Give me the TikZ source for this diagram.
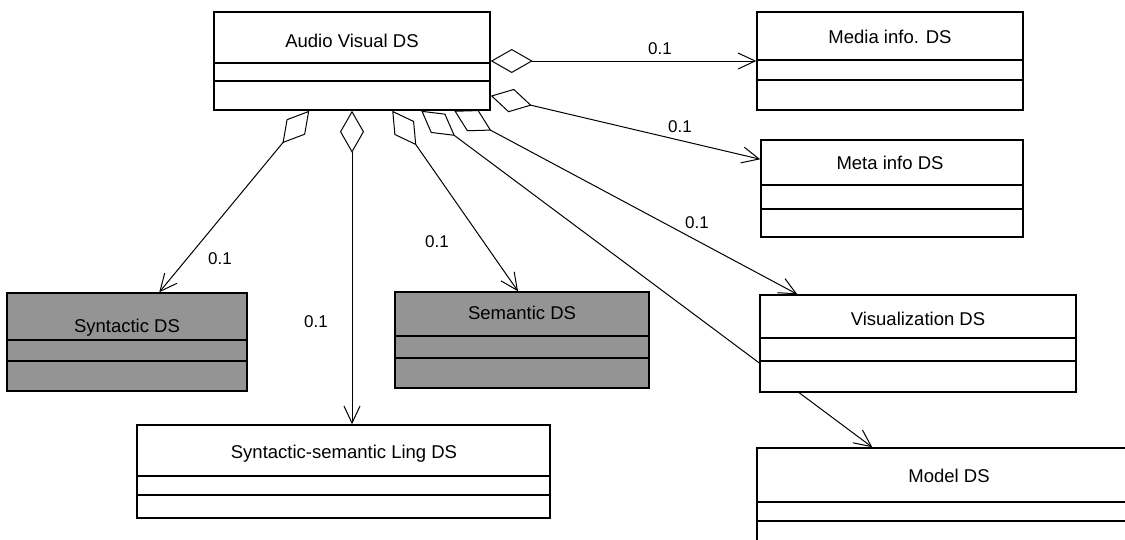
\documentclass[tikz,border=0pt]{standalone}
\usepackage{fontspec}
\setmainfont{Liberation Sans}
\usetikzlibrary{arrows.meta,calc,fit,backgrounds}
\pgfdeclarelayer{paper}
\pgfsetlayers{paper,background,main}
\tikzset{
  umlbox/.style={draw, line width=1.5pt, inner sep=0pt, fill=white},
  graybox/.style={umlbox, fill=black!42},
  divider/.style={line width=1.5pt},
  lbl/.style={inner sep=0pt, font=\fontsize{18.5}{22}\selectfont, text height=13.2pt, text depth=0pt},
  mult/.style={inner sep=0pt, font=\fontsize{17}{20}\selectfont, text height=12pt, text depth=0pt},
  assoc/.style={line width=1pt,
    {Diamond[open,length=42pt,width=24pt,fill=white]}-{Straight Barb[length=17pt,width=16pt]}},
}
\begin{document}
\begin{tikzpicture}[x=1pt,y=-1pt]
\clip (0,0) rectangle (1125,539);
\begin{pgfonlayer}{paper}
\fill[white] (0,0) rectangle (1125,539);
\end{pgfonlayer}

% boxes
\node[umlbox, fit={(214,12) (490,110)}] (av) {};
\draw[divider] (214,63) -- (490,63);
\draw[divider] (214,81) -- (490,81);
\node[lbl] (avt) at (352,40.5) {Audio Visual DS};

\node[umlbox, fit={(757,12) (1023,110)}] (media) {};
\draw[divider] (757,60) -- (1023,60);
\draw[divider] (757,80) -- (1023,80);
\node[lbl] (mediat) at (890,37) {Media info. DS};

\node[umlbox, fit={(761,140) (1023,237)}] (meta) {};
\draw[divider] (761,185) -- (1023,185);
\draw[divider] (761,209) -- (1023,209);
\node[lbl] (metat) at (890,163) {Meta info DS};

\node[umlbox, fit={(760,295) (1076,392)}] (vis) {};
\draw[divider] (760,338) -- (1076,338);
\draw[divider] (760,361) -- (1076,361);
\node[lbl] (vist) at (918,319) {Visualization DS};

\node[umlbox, fit={(757,448) (1141,546)}] (model) {};
\draw[divider] (757,502) -- (1141,502);
\draw[divider] (757,521) -- (1141,521);
\node[lbl] (modelt) at (949,476) {Model DS};

\node[graybox, fit={(7,293) (247,391)}] (syn) {};
\draw[divider] (7,340) -- (247,340);
\draw[divider] (7,361) -- (247,361);
\node[lbl] (synt) at (127,326) {Syntactic DS};

\node[graybox, fit={(395,292) (649,388)}] (sem) {};
\draw[divider] (395,336) -- (649,336);
\draw[divider] (395,358) -- (649,358);
\node[lbl] (semt) at (522,313) {Semantic DS};

\node[umlbox, fit={(137,425) (550,518)}] (ling) {};
\draw[divider] (137,476) -- (550,476);
\draw[divider] (137,495) -- (550,495);
\node[lbl] (lingt) at (344,452) {Syntactic-semantic Ling DS};

% multiplicities
\node[mult] (m1) at (660,48) {0.1};
\node[mult] (m2) at (680,126) {0.1};
\node[mult] (m3) at (697,222) {0.1};
\node[mult] (m4) at (437,241) {0.1};
\node[mult] (m5) at (220,258) {0.1};
\node[mult] (m6) at (316,321) {0.1};

% connectors (behind boxes)
\begin{scope}[on background layer]
\draw[assoc] (av.east) -- (media.west);
\draw[assoc] ($(av.south east)+(0,-15)$) -- ($(meta.north west)+(0,20)$);
\draw[assoc] ($(av.south west)+(96,0)$) -- ($(syn.north west)+(153,0)$);
\draw[assoc] (av.south) -- (av.south |- ling.north);
\draw[assoc] ($(av.south west)+(179,0)$) -- ($(sem.north)+(-4,0)$);
\draw[assoc] ($(av.south west)+(208,0)$) -- ($(model.north west)+(116,0)$);
\draw[assoc] ($(av.south west)+(241,0)$) -- ($(vis.north west)+(38,0)$);
\end{scope}
\end{tikzpicture}
\end{document}
